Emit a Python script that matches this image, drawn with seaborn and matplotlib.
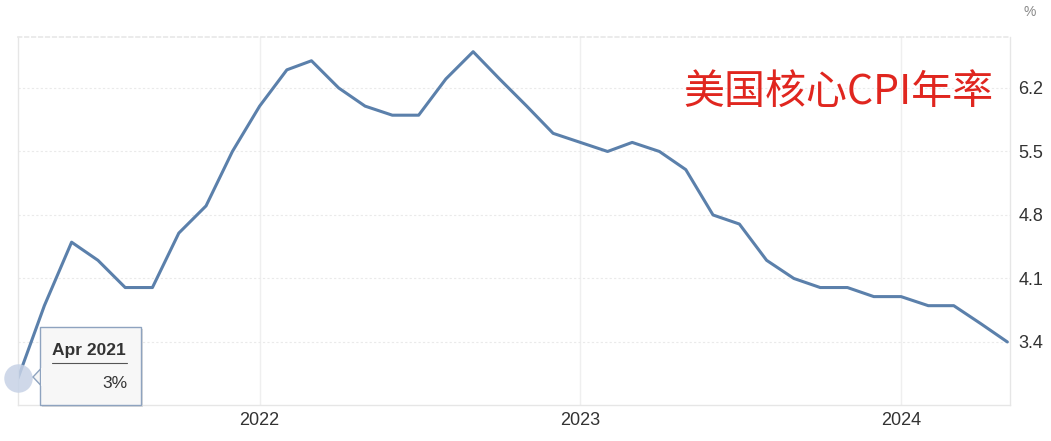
import matplotlib
matplotlib.use("Agg")
import matplotlib.pyplot as plt
from matplotlib.patches import FancyBboxPatch, Polygon
import seaborn as sns
import pandas as pd

# US core CPI, year over year (%)
months = pd.date_range("2021-04-01", "2024-05-01", freq="MS")
core_cpi = [3.0, 3.8, 4.5, 4.3, 4.0, 4.0, 4.6, 4.9, 5.5,
            6.0, 6.4, 6.5, 6.2, 6.0, 5.9, 5.9, 6.3, 6.6, 6.3, 6.0, 5.7,
            5.6, 5.5, 5.6, 5.5, 5.3, 4.8, 4.7, 4.3, 4.1, 4.0, 4.0, 3.9,
            3.9, 3.8, 3.8, 3.6, 3.4]
y_ticks = [3.4, 4.1, 4.8, 5.5, 6.2]
year_ticks = ["2022", "2023", "2024"]
title = "美国核心CPI年率"
tip_label = "Apr 2021"
tip_value = "3%"

df = pd.DataFrame({"date": months, "value": core_cpi})

W, H = 1051, 441

sns.set_theme(style="white")
plt.rcParams["font.family"] = ["Liberation Sans", "Noto Sans CJK SC", "DejaVu Sans"]

fig = plt.figure(figsize=(W / 100, H / 100), dpi=100)
ax = fig.add_axes([18 / W, 1 - 405 / H, (1010 - 18) / W, (405 - 37) / H])

sns.lineplot(data=df, x="date", y="value", ax=ax, color="#5b80ab", linewidth=2.2)

ax.set_xlim(pd.Timestamp("2021-04-01"), pd.Timestamp("2024-05-04"))
ax.set_ylim(2.705, 6.762)
ax.set_xlabel("")
ax.set_ylabel("")

ax.set_yticks(y_ticks)
ax.set_yticklabels([f"{v:.1f}" for v in y_ticks])
ax.yaxis.tick_right()
ax.set_xticks([pd.Timestamp(f"{y}-01-01") for y in year_ticks])
ax.set_xticklabels(year_ticks)
ax.tick_params(axis="both", length=0, labelsize=13, labelcolor="#333333")
ax.tick_params(axis="y", pad=6)
ax.tick_params(axis="x", pad=5)

ax.grid(axis="y", color="#eaeaea", linestyle=(0, (2, 2)), linewidth=0.8)
ax.grid(axis="x", color="#efefef", linestyle="-", linewidth=1)
for side in ["left", "right", "bottom"]:
    ax.spines[side].set_color("#e6e6e6")
    ax.spines[side].set_linewidth(1)
ax.spines["top"].set_color("#e8e8e8")
ax.spines["top"].set_linestyle((0, (2, 2)))

# unit label
fig.text(1030 / W, 1 - 12 / H, "%", ha="center", va="center", fontsize=10, color="#888888")

# title inside plot
fig.text(838 / W, 1 - 92 / H, title, ha="center", va="center", fontsize=29.5,
         color="#e0261f", family=["Noto Sans CJK SC", "DejaVu Sans"])

# hover marker on first point
ax.scatter(df["date"].iloc[:1], df["value"].iloc[:1], s=420, color="#c7d2e6",
           alpha=0.85, zorder=5, clip_on=False, linewidths=0)

# tooltip box
def px(x, y):
    return (x / W, 1 - y / H)

shadow = FancyBboxPatch(px(42, 407), 101 / W, 78 / H, boxstyle="square,pad=0",
                        transform=fig.transFigure, facecolor="#dcdcdc", edgecolor="none",
                        zorder=8)
fig.patches.append(shadow)
box = FancyBboxPatch(px(40, 405), 101 / W, 78 / H, boxstyle="square,pad=0",
                     transform=fig.transFigure, facecolor="#f7f7f7", edgecolor="#8ea3bf",
                     linewidth=1, zorder=9)
fig.patches.append(box)
pointer = Polygon([px(40.5, 369), px(33, 377), px(40.5, 385)], closed=True,
                  transform=fig.transFigure, facecolor="#f7f7f7", edgecolor="#8ea3bf",
                  linewidth=1, zorder=9)
fig.patches.append(pointer)
cover = Polygon([px(41, 368), px(41, 386), px(43, 386), px(43, 368)], closed=True,
                transform=fig.transFigure, facecolor="#f7f7f7", edgecolor="none", zorder=10)
fig.patches.append(cover)

fig.text(52 / W, 1 - 351 / H, tip_label, ha="left", va="center", fontsize=12.5,
         fontweight="bold", color="#333333", zorder=11)
fig.lines.append(plt.Line2D([52 / W, 127 / W], [1 - 363 / H, 1 - 363 / H],
                            transform=fig.transFigure, color="#555555", linewidth=0.8, zorder=11))
fig.text(127 / W, 1 - 384 / H, tip_value, ha="right", va="center", fontsize=12.5,
         color="#333333", zorder=11)

fig.savefig("out.png", dpi=100)
